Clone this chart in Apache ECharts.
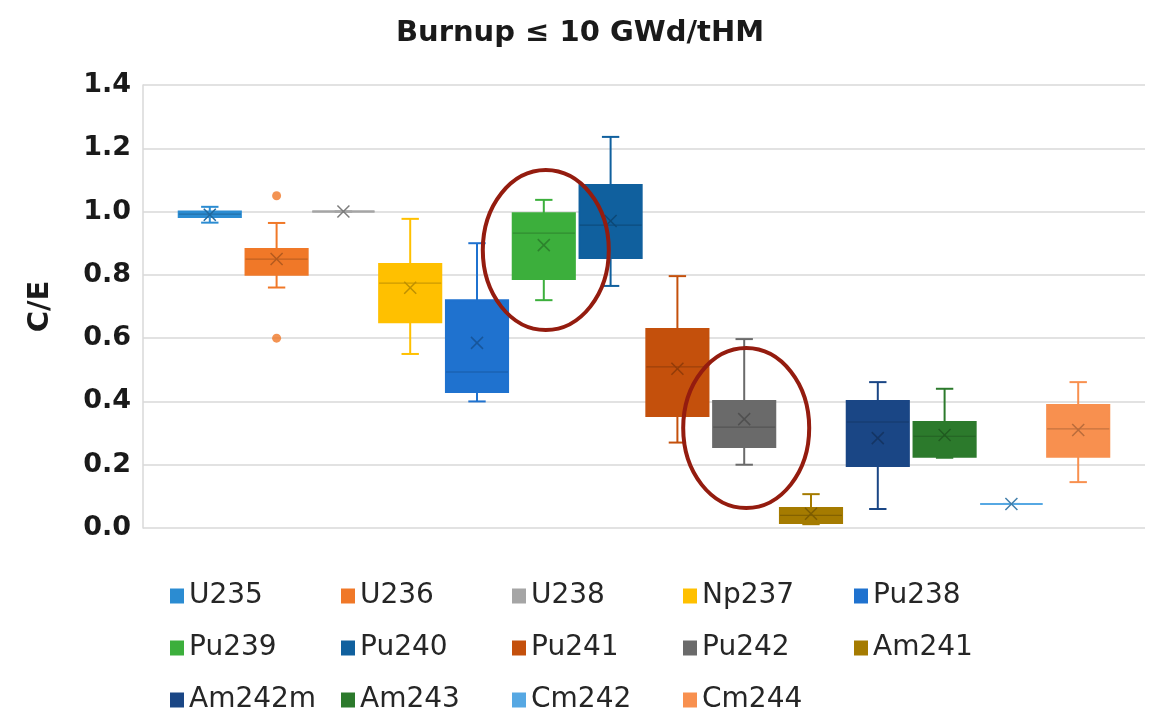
<!DOCTYPE html>
<html lang="en">
<head>
<meta charset="UTF-8">
<script src="https://cdn.jsdelivr.net/npm/echarts@6/dist/echarts.min.js"></script>
<title>Burnup C/E</title>
<style>
  html, body { margin: 0; background: #ffffff; }
  #chart { width: 1160px; height: 712px; }
</style>
</head>
<body>
<div id="chart"></div>
<script>
// box-and-whisker values per nuclide (C/E)
const isotopes    = ['U235', 'U236', 'U238', 'Np237', 'Pu238', 'Pu239', 'Pu240', 'Pu241', 'Pu242', 'Am241', 'Am242m', 'Am243', 'Cm242', 'Cm244'];
const whiskerLow  = [0.965, 0.76, 1.00, 0.55, 0.40, 0.72, 0.765, 0.27, 0.20, 0.012, 0.06, 0.222, 0.076, 0.145];
const quartile1   = [0.983, 0.80, 1.00, 0.65, 0.43, 0.787, 0.853, 0.354, 0.256, 0.016, 0.196, 0.225, 0.076, 0.225];
const medians     = [0.992, 0.85, 1.00, 0.774, 0.493, 0.932, 0.957, 0.509, 0.319, 0.04, 0.335, 0.29, 0.076, 0.313];
const quartile3   = [1.00, 0.882, 1.00, 0.834, 0.72, 0.995, 1.084, 0.629, 0.401, 0.063, 0.401, 0.335, 0.076, 0.389];
const whiskerHigh = [1.015, 0.964, 1.00, 0.977, 0.90, 1.037, 1.236, 0.796, 0.597, 0.107, 0.461, 0.44, 0.076, 0.461];
const means       = [0.99, 0.85, 1.00, 0.759, 0.585, 0.894, 0.97, 0.503, 0.344, 0.045, 0.284, 0.294, 0.076, 0.31];
const outliers    = { U236: [1.05, 0.60] };
const circled     = ['Pu239', 'Pu242'];
const yTicks      = [0, 0.2, 0.4, 0.6, 0.8, 1.0, 1.2, 1.4];

// legend laid out in five columns, as in the original
const legendColumns = [
  ['U235', 'Pu239', 'Am242m'],
  ['U236', 'Pu240', 'Am243'],
  ['U238', 'Pu241', 'Cm242'],
  ['Np237', 'Pu242', 'Cm244'],
  ['Pu238', 'Am241']
];

const colors = {
  U235: '#2B8CD2', U236: '#F07828', U238: '#A5A5A5', Np237: '#FFC000', Pu238: '#1F72CF',
  Pu239: '#3CAF3C', Pu240: '#10609E', Pu241: '#C4500C', Pu242: '#6A6A6A', Am241: '#A57B00',
  Am242m: '#1A4685', Am243: '#2C7A2C', Cm242: '#56A8E3', Cm244: '#F8904F'
};

const chart = echarts.init(document.getElementById('chart'));

function darken(color, k) {
  const c = echarts.color.parse(color);
  return 'rgb(' + Math.round(c[0] * k) + ',' + Math.round(c[1] * k) + ',' + Math.round(c[2] * k) + ')';
}

function line(x1, y1, x2, y2, stroke, w) {
  return { type: 'line', shape: { x1, y1, x2, y2 }, style: { stroke, lineWidth: w } };
}

function renderBox(params, api) {
  const color = api.visual('color');
  const dark = darken(color, 0.8);
  const x = api.value(0);
  const band = api.size([1, 0])[0];
  const half = band * 0.465;
  const cap = band * 0.13;
  const low = api.coord([x, api.value(1)]);
  const q1 = api.coord([x, api.value(2)]);
  const med = api.coord([x, api.value(3)]);
  const q3 = api.coord([x, api.value(4)]);
  const high = api.coord([x, api.value(5)]);
  const mean = api.coord([x, api.value(6)]);
  const cx = med[0];
  const flat = q1[1] - q3[1] < 1;
  const m = 6;
  return {
    type: 'group',
    children: [
      line(cx, high[1], cx, q3[1], color, 2),
      line(cx, low[1], cx, q1[1], color, 2),
      line(cx - cap, high[1], cx + cap, high[1], color, 2),
      line(cx - cap, low[1], cx + cap, low[1], color, 2),
      {
        type: 'rect',
        shape: { x: cx - half, y: q3[1], width: half * 2, height: q1[1] - q3[1] },
        style: { fill: color, stroke: color, lineWidth: 2 }
      },
      line(cx - half, med[1], cx + half, med[1], flat ? color : dark, flat ? 2 : 1.2),
      line(mean[0] - m, mean[1] - m, mean[0] + m, mean[1] + m, darken(color, 0.75), 1.5),
      line(mean[0] - m, mean[1] + m, mean[0] + m, mean[1] - m, darken(color, 0.75), 1.5)
    ]
  };
}

const series = isotopes.map((name, i) => ({
  type: 'custom',
  name: name,
  renderItem: renderBox,
  itemStyle: { color: colors[name] },
  encode: { x: 0, y: [1, 2, 3, 4, 5] },
  data: [[i + 1, whiskerLow[i], quartile1[i], medians[i], quartile3[i], whiskerHigh[i], means[i]]]
}));

Object.keys(outliers).forEach(name => {
  const i = isotopes.indexOf(name);
  series.push({
    type: 'scatter',
    name: name,
    symbolSize: 9,
    itemStyle: { color: colors[name] },
    data: outliers[name].map(v => [i + 1, v])
  });
});

const legends = legendColumns.map((col, k) => ({
  orient: 'vertical',
  left: 170 + k * 171,
  top: 582,
  height: 200,
  padding: 0,
  icon: 'rect',
  itemWidth: 14,
  itemHeight: 15,
  itemGap: 24,
  data: col,
  textStyle: { fontFamily: 'DejaVu Sans', fontSize: 28, color: '#262626', lineHeight: 26 }
}));

const option = {
  backgroundColor: '#ffffff',
  animation: false,
  title: {
    text: 'Burnup ≤ 10 GWd/tHM',
    left: 'center',
    top: 14,
    textStyle: { fontFamily: 'DejaVu Sans', fontWeight: 'bold', fontSize: 29, color: '#1a1a1a' }
  },
  legend: legends,
  grid: { left: 143, right: 15, top: 85, bottom: 184 },
  xAxis: {
    type: 'value',
    min: 0,
    max: isotopes.length + 1,
    axisLine: { show: false },
    axisTick: { show: false },
    axisLabel: { show: false },
    splitLine: { show: false }
  },
  yAxis: {
    type: 'value',
    min: yTicks[0],
    max: yTicks[yTicks.length - 1],
    interval: 0.2,
    name: 'C/E',
    nameLocation: 'middle',
    nameRotate: 90,
    nameGap: 88,
    nameTextStyle: { fontFamily: 'DejaVu Sans', fontWeight: 'bold', fontSize: 29, color: '#1a1a1a' },
    axisLine: { show: true, lineStyle: { color: '#D9D9D9', width: 1.5 } },
    axisTick: { show: false },
    axisLabel: {
      margin: 12,
      formatter: v => v.toFixed(1),
      fontFamily: 'DejaVu Sans',
      fontWeight: 'bold',
      fontSize: 27,
      color: '#1a1a1a'
    },
    splitLine: { lineStyle: { color: '#D9D9D9', width: 1.5 } }
  },
  series: series
};

chart.setOption(option);

// red ellipses around the highlighted nuclides
const ellipses = circled.map(name => {
  const i = isotopes.indexOf(name);
  const p = chart.convertToPixel({ xAxisIndex: 0, yAxisIndex: 0 }, [i + 1, (quartile1[i] + quartile3[i]) / 2]);
  return {
    type: 'ellipse',
    shape: { cx: p[0] + 2, cy: p[1] + 4, rx: 63, ry: 80 },
    style: { fill: 'none', stroke: '#941C0F', lineWidth: 4 },
    z: 100
  };
});
chart.setOption({ graphic: ellipses });
</script>
</body>
</html>
